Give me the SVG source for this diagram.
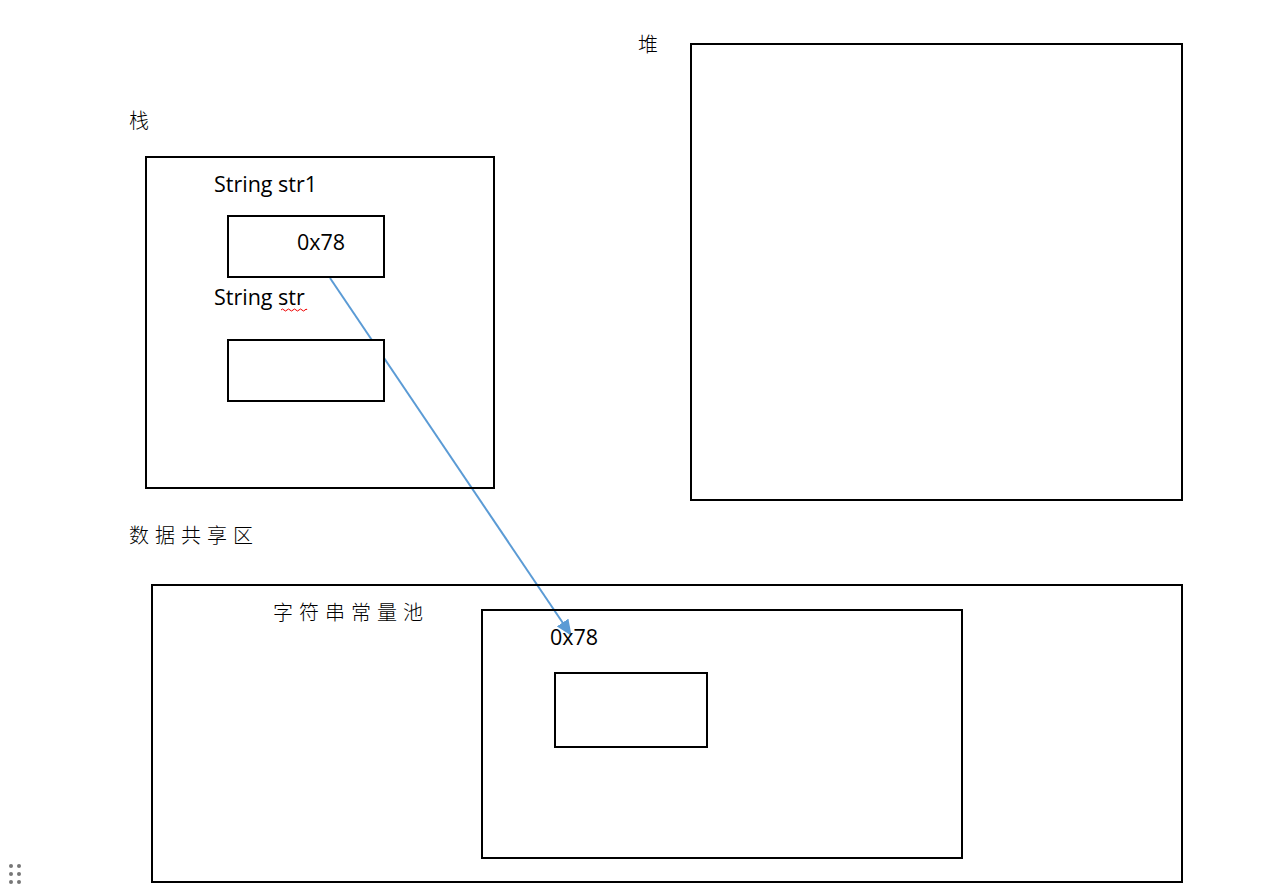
<svg xmlns="http://www.w3.org/2000/svg" width="1261" height="896" viewBox="0 0 1261 896">
<style>
.box{fill:#fff;stroke:#000;stroke-width:2}
.open{fill:none}
.lat{font-family:"Open Sans","Liberation Sans",sans-serif;font-size:21.5px;fill:#000}
.cjk{font-family:"Noto Sans CJK SC",sans-serif;font-size:20px;fill:#000;font-weight:300}
</style>
<defs>
<marker id="ah" markerWidth="16" markerHeight="14" refX="15" refY="7" orient="auto" markerUnits="userSpaceOnUse" viewBox="0 0 16 14">
<path d="M0,0 L16,7 L0,14 z" fill="#5b9bd5"/>
</marker>
</defs>
<rect width="1261" height="896" fill="#fff"/>
<g id="connectors">
<line x1="330" y1="278" x2="571" y2="635" stroke="#5b9bd5" stroke-width="2" marker-end="url(#ah)"/>
</g>
<g id="stack">
<text class="cjk" x="129" y="128">栈</text>
<rect class="box open" x="146" y="157" width="348" height="331"/>
</g>
<g id="str1">
<text class="lat" x="214" y="192">String str1</text>
<rect class="box open" x="228" y="216" width="156" height="61"/>
<text class="lat" x="297" y="250">0x78</text>
</g>
<g id="str">
<text class="lat" x="214" y="305">String str</text>
<path d="M281,310 q1.5,-2 3,0 t3,0 t3,0 t3,0 t3,0 t3,0 t3,0 t3,0 t2,0" fill="none" stroke="#e00" stroke-width="1"/>
<rect class="box" x="228" y="340" width="156" height="61"/>
</g>
<g id="heap">
<text class="cjk" x="638" y="52">堆</text>
<rect class="box open" x="691" y="44" width="491" height="456"/>
</g>
<g id="shared">
<text class="cjk" x="129" y="543" letter-spacing="6">数据共享区</text>
<rect class="box open" x="152" y="585" width="1030" height="297"/>
</g>
<g id="pool">
<text class="cjk" x="273" y="620" letter-spacing="6">字符串常量池</text>
<rect class="box open" x="482" y="610" width="480" height="248"/>
<text class="lat" x="550" y="645">0x78</text>
<rect class="box" x="555" y="673" width="152" height="74"/>
</g>
<g id="handle" fill="#777">
<circle cx="11" cy="866" r="2"/><circle cx="19" cy="866" r="2"/>
<circle cx="11" cy="874" r="2"/><circle cx="19" cy="874" r="2"/>
<circle cx="11" cy="882" r="2"/><circle cx="19" cy="882" r="2"/>
</g>
</svg>
